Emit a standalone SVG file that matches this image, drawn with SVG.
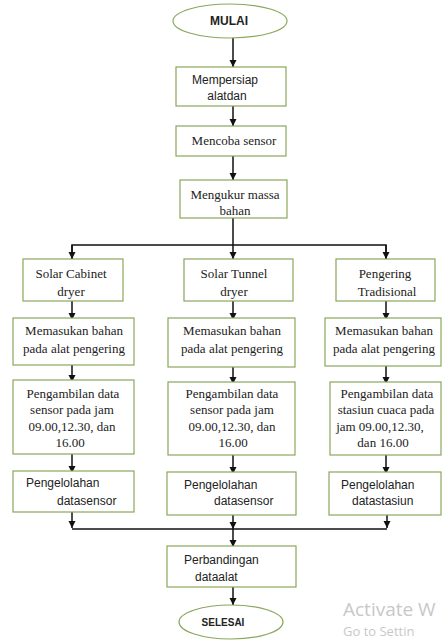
<svg xmlns="http://www.w3.org/2000/svg" width="444" height="641" viewBox="0 0 444 641">
<style>
.box{fill:#fff;stroke:#8aa75c;stroke-width:1.2}
.serif{font-family:"Liberation Serif","Times New Roman",serif;font-size:13px;fill:#222;text-anchor:middle}
.sans{font-family:"Liberation Sans",Arial,sans-serif;font-size:12px;fill:#222}
.bold{font-family:"Liberation Sans",Arial,sans-serif;font-weight:bold;fill:#222;text-anchor:middle}
.con{stroke:#111;stroke-width:1.5;fill:none}
.arr{marker-end:url(#ah)}
.wm{font-family:"Open Sans","Liberation Sans",sans-serif;fill:#c8c8c8}
</style>
<defs>
<marker id="ah" markerUnits="userSpaceOnUse" markerWidth="8" markerHeight="8" refX="7" refY="3.5" orient="auto">
<path d="M0,0 L7,3.5 L0,7 z" fill="#111"/>
</marker>
</defs>
<rect width="444" height="641" fill="#fff"/>
<g id="connectors">
<line class="con arr" x1="233" y1="38" x2="233" y2="67"/>
<line class="con arr" x1="233" y1="106" x2="233" y2="126"/>
<line class="con arr" x1="233" y1="156" x2="233" y2="180"/>
<line class="con arr" x1="233" y1="218" x2="233" y2="259"/>
<polyline class="con" points="72,259 72,245 386,245 386,259"/>
<line class="con arr" x1="72" y1="245" x2="72" y2="259"/>
<line class="con arr" x1="386" y1="245" x2="386" y2="259"/>
<line class="con arr" x1="72" y1="301" x2="72" y2="320"/>
<line class="con arr" x1="233" y1="301" x2="233" y2="320"/>
<line class="con arr" x1="386" y1="301" x2="386" y2="320"/>
<line class="con arr" x1="72" y1="365" x2="72" y2="382"/>
<line class="con arr" x1="233" y1="367" x2="233" y2="384"/>
<line class="con arr" x1="386" y1="366" x2="386" y2="384"/>
<line class="con arr" x1="72" y1="454" x2="72" y2="473"/>
<line class="con arr" x1="233" y1="455" x2="233" y2="474"/>
<line class="con arr" x1="386" y1="455" x2="386" y2="474"/>
<line class="con" x1="72" y1="529" x2="387" y2="529"/>
<line class="con arr" x1="72" y1="512" x2="72" y2="528"/>
<line class="con arr" x1="387" y1="515" x2="387" y2="528"/>
<line class="con arr" x1="233" y1="515" x2="233" y2="529"/>
<line class="con arr" x1="233" y1="529" x2="233" y2="547"/>
<line class="con arr" x1="233" y1="587" x2="233" y2="605"/>
</g>
<g id="mulai">
<ellipse class="box" cx="230" cy="21" rx="57" ry="17"/>
<text class="bold" x="229" y="25" font-size="12">MULAI</text>
</g>
<g id="mempersiap">
<rect class="box" x="176" y="67" width="110" height="39"/>
<text class="sans" x="225" y="84" text-anchor="middle" font-size="12.5">Mempersiap</text>
<text class="sans" x="227" y="100" text-anchor="middle" font-size="12.5">alatdan</text>
</g>
<g id="mencoba">
<rect class="box" x="176" y="126" width="110" height="30"/>
<text class="serif" x="234" y="145">Mencoba sensor</text>
</g>
<g id="mengukur">
<rect class="box" x="180" y="180" width="107" height="38"/>
<text class="serif" x="235" y="199">Mengukur massa</text>
<text class="serif" x="235" y="215">bahan</text>
</g>
<g id="cabinet">
<rect class="box" x="23" y="259" width="100" height="42"/>
<text class="serif" x="71" y="278">Solar Cabinet</text>
<text class="serif" x="71" y="296">dryer</text>
</g>
<g id="tunnel">
<rect class="box" x="184" y="259" width="109" height="42"/>
<text class="serif" x="234" y="278">Solar Tunnel</text>
<text class="serif" x="234" y="296">dryer</text>
</g>
<g id="tradisional">
<rect class="box" x="336" y="259" width="99" height="42"/>
<text class="serif" x="385" y="278">Pengering</text>
<text class="serif" x="387" y="296">Tradisional</text>
</g>
<g id="memasukan1">
<rect class="box" x="13" y="318" width="121" height="47"/>
<text class="serif" x="74" y="335">Memasukan bahan</text>
<text class="serif" x="74" y="353">pada alat pengering</text>
</g>
<g id="memasukan2">
<rect class="box" x="168" y="318" width="127" height="49"/>
<text class="serif" x="232" y="335">Memasukan bahan</text>
<text class="serif" x="232" y="353">pada alat pengering</text>
</g>
<g id="memasukan3">
<rect class="box" x="325" y="318" width="116" height="48"/>
<text class="serif" x="384" y="335">Memasukan bahan</text>
<text class="serif" x="384" y="353">pada alat pengering</text>
</g>
<g id="pengambilan1">
<rect class="box" x="13" y="380" width="121" height="74"/>
<text class="serif" x="73" y="398">Pengambilan data</text>
<text class="serif" x="72" y="414">sensor pada jam</text>
<text class="serif" x="72" y="431">09.00,12.30, dan</text>
<text class="serif" x="70" y="447">16.00</text>
</g>
<g id="pengambilan2">
<rect class="box" x="168" y="382" width="127" height="73"/>
<text class="serif" x="232" y="398">Pengambilan data</text>
<text class="serif" x="232" y="414">sensor pada jam</text>
<text class="serif" x="232" y="431">09.00,12.30, dan</text>
<text class="serif" x="233" y="447">16.00</text>
</g>
<g id="pengambilan3">
<rect class="box" x="330" y="382" width="111" height="73"/>
<text class="serif" x="387" y="398">Pengambilan  data</text>
<text class="serif" x="386" y="414">stasiun cuaca pada</text>
<text class="serif" x="380" y="431">jam 09.00,12.30,</text>
<text class="serif" x="383" y="447">dan 16.00</text>
</g>
<g id="pengelolahan1">
<rect class="box" x="13" y="471" width="121" height="41"/>
<text class="sans" x="26" y="487">Pengelolahan</text>
<text class="sans" x="57" y="505">datasensor</text>
</g>
<g id="pengelolahan2">
<rect class="box" x="167" y="472" width="129" height="43"/>
<text class="sans" x="184" y="489">Pengelolahan</text>
<text class="sans" x="214" y="505">datasensor</text>
</g>
<g id="pengelolahan3">
<rect class="box" x="329" y="472" width="112" height="43"/>
<text class="sans" x="341" y="489">Pengelolahan</text>
<text class="sans" x="352" y="505">datastasiun</text>
</g>
<g id="perbandingan">
<rect class="box" x="167" y="546" width="129" height="41"/>
<text class="sans" x="184" y="564">Perbandingan</text>
<text class="sans" x="195" y="581">dataalat</text>
</g>
<g id="selesai">
<ellipse class="box" cx="231" cy="622" rx="52" ry="17"/>
<text class="bold" x="223" y="626" font-size="10">SELESAI</text>
</g>
<g id="watermark">
<text class="wm" x="343" y="616" font-size="19">Activate W</text>
<text class="wm" x="343" y="636" font-size="13">Go to Settin</text>
</g>
</svg>
